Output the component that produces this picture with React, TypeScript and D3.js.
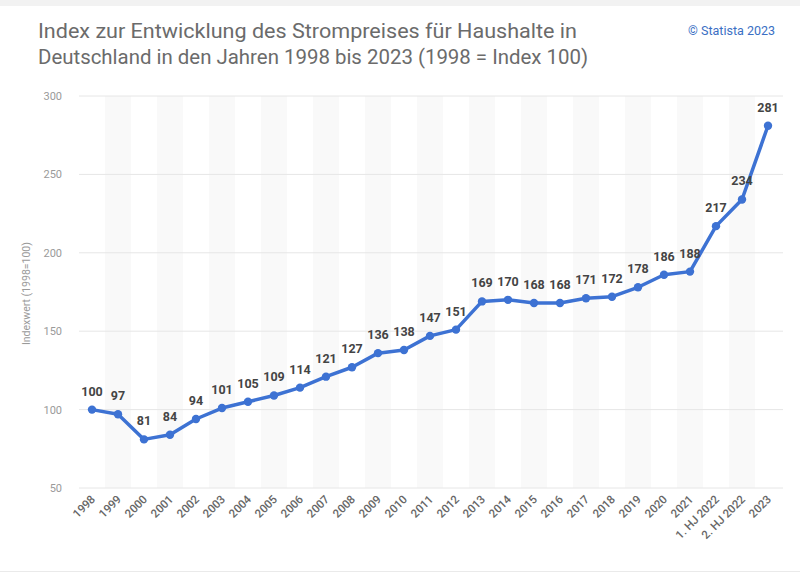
import React from "react";
import * as d3 from "d3";

const categories = ["1998","1999","2000","2001","2002","2003","2004","2005","2006","2007","2008","2009","2010","2011","2012","2013","2014","2015","2016","2017","2018","2019","2020","2021","1. HJ 2022","2. HJ 2022","2023"];
const values = [100,97,81,84,94,101,105,109,114,121,127,136,138,147,151,169,170,168,168,171,172,178,186,188,217,234,281];
const yTicks = [50,100,150,200,250,300];
const titleLines = ["Index zur Entwicklung des Strompreises für Haushalte in", "Deutschland in den Jahren 1998 bis 2023 (1998 = Index 100)"];

const W = 800, H = 573;
const FONT = "Roboto, 'Noto Sans', sans-serif";

export default function App() {
  const x = d3.scalePoint<string>().domain(categories).range([92, 768]);
  const step = x.step();
  const y = d3.scaleLinear().domain([50, 300]).range([488, 96]);
  const line = d3.line<number>().x((_, i) => x(categories[i])!).y(d => y(d));
  const blue = "#3d72d3";
  return (
    <div style={{ position: "absolute", left: 0, top: 0 }}>
      <svg width={W} height={H} style={{ display: "block", background: "#fff" }}>
        <rect x={0} y={0} width={W} height={6} fill="#f2f2f2" />
        <line x1={0} x2={W} y1={571.5} y2={571.5} stroke="#eaeaea" />
        {titleLines.map((t, i) => (
          <text key={i} x={38} y={38 + i * 26} fontFamily={FONT} fontSize={20.5} fontWeight={400} fill="#6b6b6b" textLength={i === 0 ? 539 : 550} lengthAdjust="spacingAndGlyphs">{t}</text>
        ))}
        <text x={775} y={35} textAnchor="end" fontFamily={FONT} fontSize={12.5} fill="#3a6fc4">© Statista 2023</text>
        {categories.map((c, i) => i % 2 === 1 ? (
          <rect key={c} x={x(c)! - step / 2} y={96} width={step} height={392} fill="#f9f9f9" />
        ) : null)}
        {yTicks.map(t => (
          <g key={t}>
            <line x1={79} x2={783} y1={y(t)} y2={y(t)} stroke="#e6e6e6" strokeWidth={1} />
            <text x={62} y={y(t) + 4} textAnchor="end" fontFamily={FONT} fontSize={11} fill="#9a9a9a">{t}</text>
          </g>
        ))}
        <text transform={`translate(30,${y(174)}) rotate(-90)`} textAnchor="middle" fontFamily={FONT} fontSize={10.5} fill="#9a9a9a">Indexwert (1998=100)</text>
        <path d={line(values) || ""} fill="none" stroke={blue} strokeWidth={3.5} strokeLinejoin="round" />
        {values.map((v, i) => (
          <circle key={i} cx={x(categories[i])!} cy={y(v)} r={4.2} fill={blue} />
        ))}
        {values.map((v, i) => (
          <text key={"l" + i} x={x(categories[i])!} y={y(v) - 14} textAnchor="middle" fontFamily={FONT} fontSize={12.5} fontWeight={700} fill="#444">{v}</text>
        ))}
        {categories.map(c => (
          <text key={"x" + c} transform={`translate(${x(c)! + 4},${500}) rotate(-45)`} textAnchor="end" fontFamily={FONT} fontSize={11.5} fontWeight={500} fill="#666">{c}</text>
        ))}
      </svg>
    </div>
  );
}
